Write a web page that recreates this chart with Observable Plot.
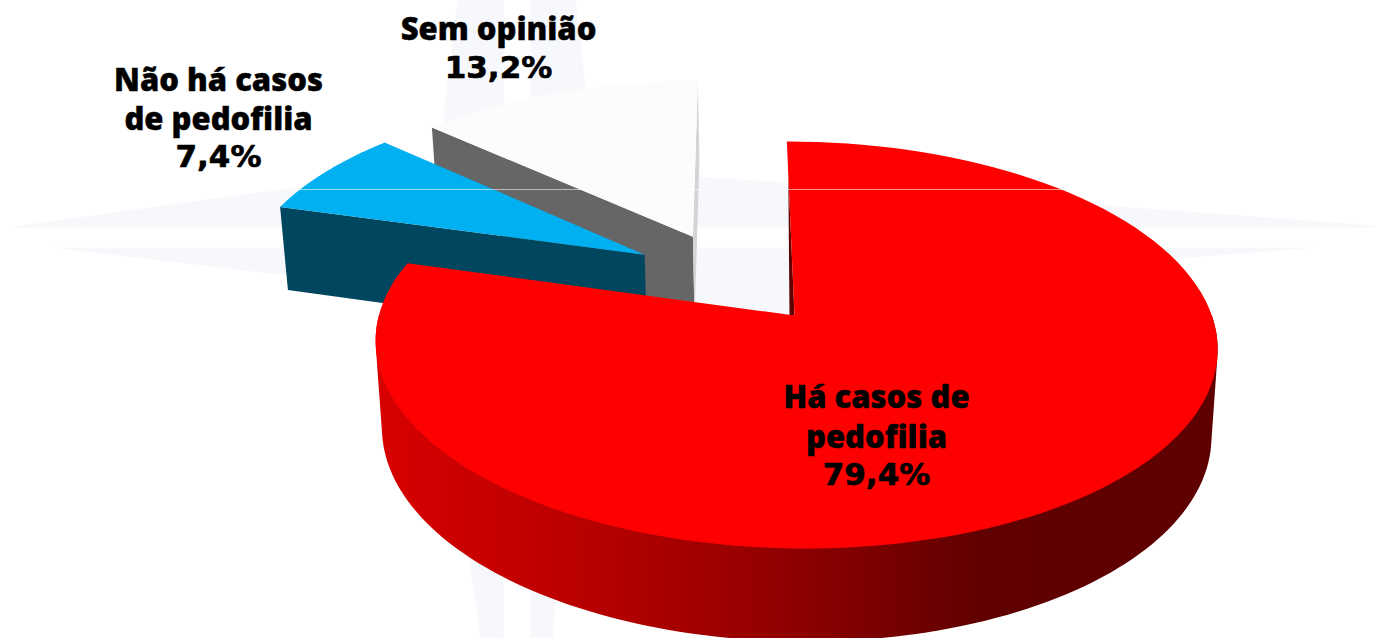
<!DOCTYPE html>
<html>
<head>
<meta charset="utf-8">
<script src="https://cdn.jsdelivr.net/npm/d3@7"></script>
<script src="https://cdn.jsdelivr.net/npm/@observablehq/plot@0.6"></script>
<style>html,body{margin:0;padding:0;background:#fff;overflow:hidden}</style>
</head>
<body>
<div id="chart"></div>
<script>
const categories = ["Há casos de\npedofilia", "Não há casos\nde pedofilia", "Sem opinião"];
const shares = [79.4, 7.4, 13.2];
const shareTexts = ["79,4%", "7,4%", "13,2%"];
const labelX = [876, 218, 498];
const nameY = [415, 97.5, 27];
const shareY = [475, 157, 68];
const faceColors = ["#ff0000", "#00b0f0", "#fcfcfc"];
const wallColors = ["#600000", "#00465f", "#666666"];
const explodeU = [0, -0.37, -0.25];
const explodeV = [0, -0.32, -0.42];

// Perspective view of the pie
const view = {x0: 794, y0: 315, a: 416.5, b: 199.2, k: 0.145, m: 0.002, skew: 0.044, xv: 800, f: 0.985, H: 86.5, q: 0.07};
function project(u, v, lower) {
  const w = 1 - view.k * v - view.m * u;
  const dy = view.b * v / w;
  let x = view.x0 + view.a * u / w + view.skew * dy;
  let y = view.y0 + dy;
  if (lower) {
    x = view.xv + (x - view.xv) * view.f;
    y += view.H / (1 - view.q * v);
  }
  return {x, y};
}
const TAU = Math.PI * 2;
const total = d3.sum(shares);
let acc = 0;
const slices = shares.map((s, i) => {
  const start = acc / total * TAU;
  acc += s;
  return {i, start, end: acc / total * TAU, ou: explodeU[i], ov: explodeV[i]};
});
const rim = (s, t, lower) => project(s.ou + Math.sin(t), s.ov - Math.cos(t), lower);
const centre = (s, lower) => project(s.ou, s.ov, lower);
const arcSteps = (a, b) => d3.range(0, 121).map(j => a + (b - a) * j / 120);
const face = s => [centre(s), ...arcSteps(s.start, s.end).map(t => rim(s, t))];
const radialWall = (s, t) => [centre(s), rim(s, t), rim(s, t, true), centre(s, true)];

const [red, blue, white] = slices;
// silhouette of the side of the big slice: hull of the front of both rims
const wallPoints = [
  ...arcSteps(Math.PI * 0.5, Math.PI * 1.5).map(t => rim(red, t)),
  ...arcSteps(Math.PI * 0.5, Math.PI * 1.5).map(t => rim(red, t, true))
];
const outerWall = d3.polygonHull(wallPoints.map(p => [p.x, p.y])).map(([x, y]) => ({x, y}));
// thin cut wall seen at the start of the big slice
const cutTip = project(0, -0.79);
const cutApex = project(0, 0);
const cutWall = [cutTip, cutApex, {x: cutApex.x - 5, y: cutApex.y}];

// Faint star-shaped watermark behind the pie
const watermark = [
  [[13,226],[287,188],[690,176],[786,182],[1105,205],[1375,225],[1375,227],[13,227]],
  [[51,247],[1316,247],[1178,258],[800,320],[690,330],[287,275]],
  [[457,0],[503,0],[503,638],[480,638],[470,567],[440,240],[443,115]],
  [[530,0],[575,0],[585,85],[590,240],[555,603],[552,638],[530,638]]
].map(poly => poly.map(([x, y]) => ({x, y})));

const poly = (pts, fill) => Plot.line(pts, {x: "x", y: "y", fill, stroke: "none", curve: "linear-closed"});
const gradient = () => {
  const defs = d3.create("svg:defs");
  const g = defs.append("linearGradient").attr("id", "wallShade");
  [[0, "#d80000"], [0.25, "#b80000"], [0.5, "#8e0000"], [0.72, "#600000"], [1, "#5f0000"]]
    .forEach(([o, c]) => g.append("stop").attr("offset", o).attr("stop-color", c));
  return defs.node();
};

const names = categories.map((c, i) => ({text: c, x: labelX[i], y: nameY[i]}));
const percents = shareTexts.map((t, i) => ({text: t, x: labelX[i], y: shareY[i]}));

const chart = Plot.plot({
  width: 1375,
  height: 638,
  margin: 0,
  x: {type: "linear", domain: [0, 1375], range: [0, 1375], axis: null},
  y: {type: "linear", domain: [0, 638], range: [0, 638], axis: null},
  style: {background: "#ffffff"},
  marks: [
    gradient,
    ...watermark.map(p => poly(p, "#f6f8fc")),
    poly(radialWall(white, white.start), wallColors[2]),
    poly(radialWall(white, white.end), "#d4d4d4"),
    poly(face(white), faceColors[2]),
    poly(radialWall(blue, blue.start), wallColors[1]),
    poly(face(blue), faceColors[1]),
    poly(outerWall, "url(#wallShade)"),
    poly(cutWall, wallColors[0]),
    poly(face(red), faceColors[0]),
    Plot.ruleY([189], {x1: 0, x2: 1375, stroke: "#ffffff", strokeOpacity: 0.55, strokeWidth: 1}),
    Plot.text(names, {
      x: "x", y: "y", text: "text",
      fontFamily: "'Noto Sans', sans-serif", fontWeight: 900, fontSize: 31,
      lineHeight: 1.26, fill: "#000000", stroke: "#000000", strokeWidth: 0.4, textAnchor: "middle", lineAnchor: "middle"
    }),
    Plot.text(percents, {
      x: "x", y: "y", text: "text",
      fontFamily: "'DejaVu Sans', sans-serif", fontWeight: 700, fontSize: 31,
      fill: "#000000", stroke: "#000000", strokeWidth: 0.7, textAnchor: "middle", lineAnchor: "middle"
    })
  ]
});
document.getElementById("chart").appendChild(chart);
</script>
</body>
</html>
